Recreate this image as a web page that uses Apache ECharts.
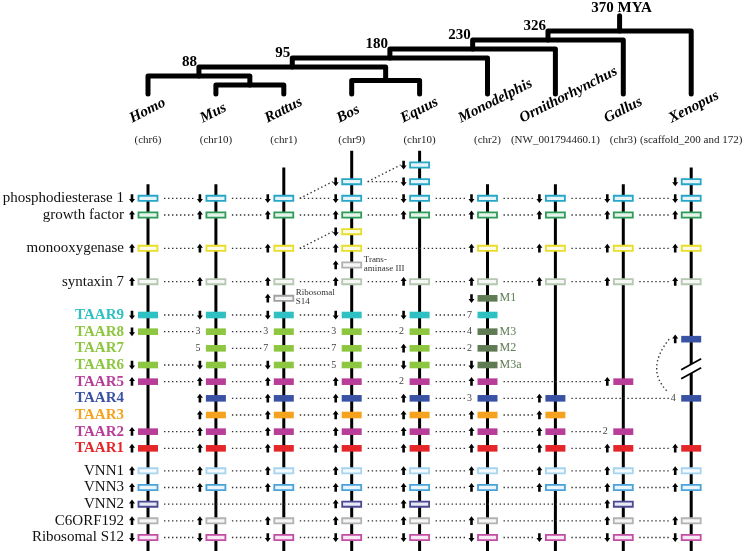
<!DOCTYPE html>
<html><head><meta charset="utf-8">
<script src="https://cdn.jsdelivr.net/npm/echarts@6/dist/echarts.min.js"></script>
<style>html,body{margin:0;padding:0;background:#fff}#c{width:744px;height:551px}</style>
</head><body><div id="c"></div>
<script>
// ---------------- data ----------------
const species = ['Homo','Mus','Rattus','Bos','Equus','Monodelphis','Ornithorhynchus','Gallus','Xenopus'];
const chromosomes = ['(chr6)','(chr10)','(chr1)','(chr9)','(chr10)','(chr2)','(NW_001794460.1)','(chr3)','(scaffold_200 and 172)'];

// [node, level, left child, right child, divergence label]
const treeMerges = [
  ['MusRat', 1, 'Mus', 'Rattus', ''],
  ['BosEq', 1.5, 'Bos', 'Equus', ''],
  ['Euarch', 2, 'Homo', 'MusRat', '88'],
  ['Boreo', 3, 'Euarch', 'BosEq', '95'],
  ['Theria', 4, 'Boreo', 'Monodelphis', '180'],
  ['Mammalia', 5, 'Theria', 'Ornithorhynchus', '230'],
  ['Amniota', 6, 'Mammalia', 'Gallus', '326'],
  ['Tetrapoda', 7, 'Amniota', 'Xenopus', '370 MYA']
];
const rootStemLevel = 8.7;

// gene track rows: [row, kind, marks for Homo..Xenopus, gene name]
// u = up arrow, d = down arrow, digit = copy number, * = M-type gene, | = not linked to previous
const geneRows = [
  [0, 'pde', ['','','','','d','','','',''], ''],
  [1, 'pde', ['','','','d','d','','','','|d'], ''],
  [2, 'pde', ['d','d','d','d','d','d','d','d','d'], 'phosphodiesterase 1'],
  [3, 'gf', ['u','u','u','u','u','u','u','u','u'], 'growth factor'],
  [4, 'mox', ['','','','d','','','','',''], ''],
  [5, 'mox', ['u','u','u','u','','u','u','u','u'], 'monooxygenase'],
  [6, 'tra', ['','','','u','','','','',''], ''],
  [7, 'stx', ['u','u','u','u','u','u','u','u','u'], 'syntaxin 7'],
  [8, 's14', ['','','u','','','','','',''], ''],
  [8, 'm', ['','','','','','d','','',''], ''],
  [9, 't9', ['d','d','d','d','d','7','','',''], 'TAAR9'],
  [10, 't8', ['d','3','3','3','2','4*','','',''], 'TAAR8'],
  [10.45, 't4', ['','','','','','','','','u'], ''],
  [11, 't7', ['','5','7','7','u','2*','','',''], 'TAAR7'],
  [12, 't6', ['d','d','d','5','d','d*','','',''], 'TAAR6'],
  [13, 't5', ['u','u','u','u','2','u','','u',''], 'TAAR5'],
  [14, 't4', ['','u','u','u','u','3','u','','4'], 'TAAR4'],
  [15, 't3', ['','u','u','u','u','u','u','',''], 'TAAR3'],
  [16, 't2', ['u','u','u','u','u','u','u','2',''], 'TAAR2'],
  [17, 't1', ['u','u','u','u','u','u','u','u','u'], 'TAAR1'],
  [18.35, 'vnn1', ['u','u','u','u','u','u','u','u','u'], 'VNN1'],
  [19.35, 'vnn3', ['u','u','u','u','u','u','u','u','u'], 'VNN3'],
  [20.35, 'vnn2', ['u','','','u','u','','','u',''], 'VNN2'],
  [21.35, 'c6', ['u','u','u','u','u','u','','u','u'], 'C6ORF192'],
  [22.35, 's12', ['d','d','d','d','d','d','d','d','d'], 'Ribosomal S12']
];
// diagonal orthology links [fromCol, fromRow, toCol, toRow]
const crossLinks = [[2,2,3,1],[3,1,4,0],[2,5,3,4]];
// curved link between the two Xenopus scaffolds
const curvedLinks = [[8,10.45,8,14]];
// labels beside boxes [col, row, text]
const sideLabels = [[2,8,'Ribosomal\nS14'],[3,6,'Trans-\naminase III'],[5,8,'M1'],[5,10,'M3'],[5,11,'M2'],[5,12,'M3a']];

// ---------------- styles ----------------
const kindColors = {
  pde:'#27a6c8', gf:'#2e9c58', mox:'#e8dd2a', tra:'#b0b0b0', stx:'#b5c6b1', s14:'#a0a0a0',
  t9:'#2fc0c3', t8:'#8dc640', t7:'#8dc640', t6:'#8dc640', t5:'#b83d98', t4:'#3a52a3',
  t3:'#f5a21e', t2:'#b83d98', t1:'#e4262b', m:'#5e7b53',
  vnn1:'#a6d4ee', vnn3:'#4aa2da', vnn2:'#4a4894', c6:'#b2b2b2', s12:'#c14ea2'
};
const filledKinds = ['t9','t8','t7','t6','t5','t4','t3','t2','t1','m'];
const SERIF = '"Liberation Serif","Times New Roman",serif';

function tint(hex, t) {
  const n = parseInt(hex.slice(1), 16);
  const r = (n >> 16) & 255, g = (n >> 8) & 255, b = n & 255;
  const f = v => Math.round(v + (255 - v) * t);
  return 'rgb(' + f(r) + ',' + f(g) + ',' + f(b) + ')';
}

// ---------------- derived structures ----------------
const cells = [];
const links = [];
geneRows.forEach(([row, kind, marks]) => {
  let prev = null;
  marks.forEach((tok, col) => {
    if (!tok) return;
    const noLink = tok.indexOf('|') >= 0;
    const isM = tok.indexOf('*') >= 0;
    const ann = tok.replace('|','').replace('*','');
    cells.push({col, row, kind: isM ? 'm' : kind, ann});
    if (prev !== null && !noLink) links.push([prev, row, col, row]);
    prev = col;
  });
});
crossLinks.forEach(l => links.push(l));

const lineTop = species.map((s, i) => {
  let m = Infinity;
  cells.forEach(c => { if (c.col === i) m = Math.min(m, c.row); });
  crossLinks.forEach(l => { if (l[0] === i) m = Math.min(m, l[3]); });
  return m - 0.85;
});

const mergeByName = {};
treeMerges.forEach(m => mergeByName[m[0]] = m);
function nodeX(name) {
  const si = species.indexOf(name);
  if (si >= 0) return si;
  const m = mergeByName[name];
  return (nodeX(m[2]) + nodeX(m[3])) / 2;
}
function nodeLevel(name) {
  return species.indexOf(name) >= 0 ? 0 : mergeByName[name][1];
}
function parentLevel(name) {
  const p = treeMerges.find(m => m[2] === name || m[3] === name);
  return p ? p[1] : null;
}

const measureCtx = document.createElement('canvas').getContext('2d');
const speciesFont = 'italic bold 15px ' + SERIF;

// ---------------- chart ----------------
const chart = echarts.init(document.getElementById('c'), null, {renderer: 'canvas'});
const DOT = {stroke:'#333', lineWidth:1.4, lineDash:[1.4, 2.6], fill:'none'};

function arrow(cx, cy, up) {
  const s = up ? 1 : -1;
  const pts = [[0,-4.6],[3,-0.6],[1.3,-0.6],[1.3,4.2],[-1.3,4.2],[-1.3,-0.6],[-3,-0.6]];
  return {type:'polygon', shape:{points: pts.map(p => [cx + p[0], cy + s * p[1]])}, style:{fill:'#000'}};
}

const option = {
  animation: false,
  backgroundColor: '#fff',
  grid: [
    {left:148, top:165, width:543.2, height:380},
    {left:148, top:13, width:543.2, height:81}
  ],
  xAxis: [
    {gridIndex:0, type:'value', min:0, max:8, show:false},
    {gridIndex:1, type:'value', min:0, max:8, show:false}
  ],
  yAxis: [
    {gridIndex:0, type:'value', min:0, max:22.8, inverse:true, show:false},
    {gridIndex:1, type:'value', min:0, max:9, show:false}
  ],
  series: [
    { // chromosome lines
      type:'custom', xAxisIndex:0, yAxisIndex:0, silent:true,
      data: species.map((s, i) => [i, lineTop[i], 23.3]),
      renderItem: (params, api) => {
        const a = api.coord([api.value(0), api.value(1)]);
        const b = api.coord([api.value(0), api.value(2)]);
        return {type:'line', shape:{x1:a[0], y1:a[1], x2:b[0], y2:b[1]}, style:{stroke:'#000', lineWidth:3}};
      }
    },
    { // dotted orthology links
      type:'custom', xAxisIndex:0, yAxisIndex:0, silent:true,
      data: links,
      renderItem: (params, api) => {
        const a = api.coord([api.value(0), api.value(1)]);
        const b = api.coord([api.value(2), api.value(3)]);
        const diag = api.value(1) !== api.value(3);
        return {type:'line', shape:{x1:a[0] + 16, y1:a[1], x2:b[0] - (diag ? 19 : 22), y2:b[1]}, style:DOT};
      }
    },
    { // curved link + scaffold break
      type:'custom', xAxisIndex:0, yAxisIndex:0, silent:true,
      data: curvedLinks,
      renderItem: (params, api) => {
        const a = api.coord([api.value(0), api.value(1)]);
        const b = api.coord([api.value(2), api.value(3)]);
        const cx = a[0];
        const by = (a[1] + b[1]) / 2;
        const x1 = a[0] - 22, y1 = a[1], x2 = b[0] - 24, y2 = b[1] - 7;
        const ch = [
          {type:'bezierCurve', shape:{x1, y1, x2, y2, cpx1: cx - 46, cpy1: by}, style:DOT},
          {type:'polygon', shape:{points:[[cx-3, by-4.5+1.6],[cx+3, by-4.5-1.6],[cx+3, by+4.5-1.6],[cx-3, by+4.5+1.6]]}, style:{fill:'#fff'}},
          {type:'line', shape:{x1:cx-10, y1:by-4.5+5.5, x2:cx+10, y2:by-4.5-5.5}, style:{stroke:'#000', lineWidth:1.8}},
          {type:'line', shape:{x1:cx-10, y1:by+4.5+5.5, x2:cx+10, y2:by+4.5-5.5}, style:{stroke:'#000', lineWidth:1.8}}
        ];
        return {type:'group', children:ch};
      }
    },
    { // gene boxes with orientation / copy number
      type:'custom', xAxisIndex:0, yAxisIndex:0, silent:true,
      data: cells.map(c => [c.col, c.row]),
      renderItem: (params, api) => {
        const c = cells[params.dataIndex];
        const p = api.coord([c.col, c.row]);
        const color = kindColors[c.kind];
        const filled = filledKinds.indexOf(c.kind) >= 0;
        const ch = [];
        if (filled) {
          ch.push({type:'rect', shape:{x:p[0]-10, y:p[1]-3.3, width:20, height:6.6}, style:{fill:color}});
        } else {
          ch.push({type:'rect', shape:{x:p[0]-9.5, y:p[1]-2.6, width:19, height:5.2}, style:{fill:tint(color, 0.88), stroke:color, lineWidth:1.8}});
        }
        if (c.ann === 'u' || c.ann === 'd') {
          ch.push(arrow(p[0] - 16, p[1], c.ann === 'u'));
        } else if (c.ann) {
          ch.push({type:'text', x:p[0] - 18, y:p[1], style:{text:c.ann, fill:'#444', font:'10px ' + SERIF, align:'center', verticalAlign:'middle'}});
        }
        return {type:'group', children:ch};
      }
    },
    { // labels beside boxes
      type:'custom', xAxisIndex:0, yAxisIndex:0, silent:true,
      data: sideLabels.map(s => [s[0], s[1]]),
      renderItem: (params, api) => {
        const s = sideLabels[params.dataIndex];
        const p = api.coord([s[0], s[1]]);
        const cell = cells.find(c => c.col === s[0] && c.row === s[1]);
        const isM = cell && cell.kind === 'm';
        return {type:'text', x:p[0] + 12, y:p[1] + (isM ? 0 : -1), style:{
          text:s[2], fill: isM ? kindColors.m : '#333',
          font: (isM ? '12px ' : '9px ') + SERIF, lineHeight: isM ? 12 : 9,
          align:'left', verticalAlign:'middle'}};
      }
    },
    { // gene names at left
      type:'custom', xAxisIndex:0, yAxisIndex:0, silent:true,
      data: geneRows.filter(g => g[3]).map(g => [0, g[0]]),
      renderItem: (params, api) => {
        const g = geneRows.filter(r => r[3])[params.dataIndex];
        const p = api.coord([0, g[0]]);
        const taar = g[3].indexOf('TAAR') === 0;
        return {type:'text', x:p[0] - 24, y:p[1], style:{
          text:g[3], fill: taar ? kindColors[g[1]] : '#111',
          font: (taar ? 'bold ' : '') + '15px ' + SERIF,
          align:'right', verticalAlign:'middle'}};
      }
    },
    { // phylogenetic tree
      type:'custom', xAxisIndex:1, yAxisIndex:1, silent:true,
      data: treeMerges.map(m => [nodeX(m[0]), m[1]]),
      renderItem: (params, api) => {
        const m = treeMerges[params.dataIndex];
        const xl = nodeX(m[2]), xr = nodeX(m[3]), x = nodeX(m[0]);
        const pts = [
          api.coord([xl, nodeLevel(m[2])]), api.coord([xl, m[1]]),
          api.coord([xr, m[1]]), api.coord([xr, nodeLevel(m[3])])
        ];
        const ch = [{type:'polyline', shape:{points:pts}, style:{stroke:'#000', lineWidth:5, fill:'none', lineJoin:'round', lineCap:'round'}}];
        const pl = parentLevel(m[0]);
        if (pl !== null) {
          const q = api.coord([x, pl]);
          if (m[4]) ch.push({type:'text', x:q[0] - 2, y:q[1] + 3, style:{text:m[4], fill:'#000', font:'bold 15px ' + SERIF, align:'right', verticalAlign:'bottom'}});
        } else {
          const a = api.coord([x, m[1]]), b = api.coord([x, rootStemLevel]);
          ch.push({type:'line', shape:{x1:a[0], y1:a[1], x2:b[0], y2:b[1]}, style:{stroke:'#000', lineWidth:5, lineCap:'round'}});
          ch.push({type:'text', x:b[0] + 2, y:b[1] - 0.5, style:{text:m[4], fill:'#000', font:'bold 15px ' + SERIF, align:'center', verticalAlign:'bottom'}});
        }
        return {type:'group', children:ch};
      }
    },
    { // species names and chromosome labels
      type:'custom', xAxisIndex:1, yAxisIndex:1, silent:true,
      data: species.map((s, i) => [i, 0]),
      renderItem: (params, api) => {
        const i = params.dataIndex;
        const p = api.coord([i, 0]);
        measureCtx.font = speciesFont;
        const L = measureCtx.measureText(species[i]).width;
        return {type:'group', children:[
          {type:'text', x:p[0] - 4.6 - L / 4, y:p[1] + 32, rotation: 27 * Math.PI / 180,
            style:{text:species[i], fill:'#000', font:speciesFont, align:'left', verticalAlign:'bottom'}},
          {type:'text', x:p[0], y:p[1] + 46, style:{text:chromosomes[i], fill:'#222', font:'11px ' + SERIF, align:'center', verticalAlign:'middle'}}
        ]};
      }
    }
  ]
};
chart.setOption(option);
</script>
</body></html>
